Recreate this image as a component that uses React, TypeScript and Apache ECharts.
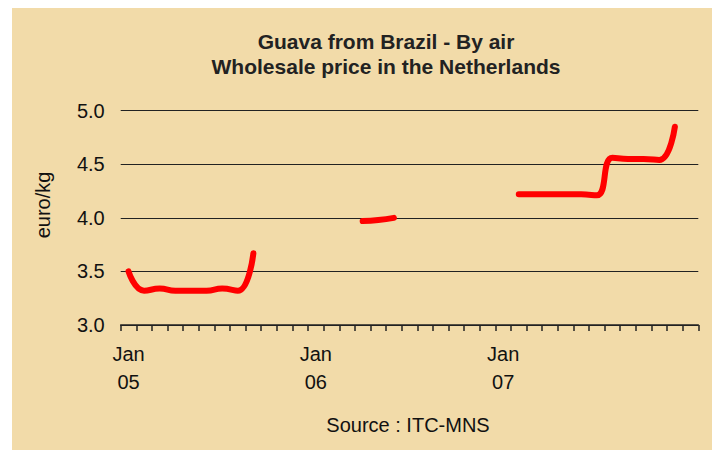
import React, { useEffect, useRef } from "react";
import * as echarts from "echarts";

const months = ["Jan","Feb","Mar","Apr","May","Jun","Jul","Aug","Sep","Oct","Nov","Dec"];
const years = ["05", "06", "07", "08"];
const categories: string[] = [];
years.forEach((y, yi) => {
  months.forEach((m, mi) => {
    if (yi < 3 || mi === 0) categories.push(`${m} ${y}`);
  });
});

const prices2005 = [3.5, 3.32, 3.34, 3.32, 3.32, 3.32, 3.34, 3.32, 3.67, null, null, null];
const prices2006 = [null, null, null, 3.97, 3.98, 4.0, null, null, null, null, null, null];
const prices2007 = [null, 4.22, 4.22, 4.22, 4.22, 4.22, 4.21, 4.56, 4.55, 4.55, 4.54, 4.85];
const prices2008 = [null];
const prices = [...prices2005, ...prices2006, ...prices2007, ...prices2008];

const yTicks = [3.0, 3.5, 4.0, 4.5, 5.0];
const titleLines = ["Guava from Brazil - By air", "Wholesale price in the Netherlands"];
const yName = "euro/kg";
const sourceText = "Source : ITC-MNS";

export default function App() {
  const ref = useRef<HTMLDivElement>(null);
  useEffect(() => {
    document.body.style.margin = "0";
    const chart = echarts.init(ref.current!, null, { renderer: "svg" });
    const font = "'Liberation Sans', Arial, sans-serif";
    chart.setOption({
      animation: false,
      backgroundColor: "#ffffff",
      textStyle: { fontFamily: font },
      graphic: [
        {
          type: "rect",
          z: -10,
          shape: { x: 12, y: 8, width: 700, height: 442 },
          style: { fill: "#F2DBA9" },
        },
        {
          type: "text",
          x: 386,
          y: 54,
          style: {
            text: titleLines.join("\n"),
            font: `bold 21px ${font}`,
            fill: "#222222",
            align: "center",
            verticalAlign: "middle",
            lineHeight: 25,
          },
        },
        {
          type: "text",
          x: 43,
          y: 205,
          rotation: Math.PI / 2,
          style: {
            text: yName,
            font: `20px ${font}`,
            fill: "#111111",
            align: "center",
            verticalAlign: "middle",
          },
        },
        {
          type: "text",
          x: 408,
          y: 425,
          style: {
            text: sourceText,
            font: `20px ${font}`,
            fill: "#111111",
            align: "center",
            verticalAlign: "middle",
          },
        },
      ],
      grid: { left: 120.7, right: 13.7, top: 110.7, bottom: 125 },
      xAxis: {
        type: "category",
        data: categories,
        boundaryGap: true,
        axisLine: { lineStyle: { color: "#222222", width: 1.5 } },
        axisTick: { show: true, interval: 0, length: 6, lineStyle: { color: "#222222", width: 1.5 } },
        axisLabel: {
          interval: (i: number) => i === 0 || i === 12 || i === 24,
          formatter: (v: string) => v.replace(" ", "\n"),
          fontSize: 20,
          color: "#111111",
          lineHeight: 28,
          margin: 15,
        },
        splitLine: { show: false },
      },
      yAxis: {
        type: "value",
        min: yTicks[0],
        max: yTicks[yTicks.length - 1],
        interval: 0.5,
        axisLine: { show: false },
        axisTick: { show: false },
        axisLabel: {
          fontSize: 20,
          color: "#111111",
          margin: 16,
          formatter: (v: number) => v.toFixed(1),
        },
        splitLine: { lineStyle: { color: "#222222", width: 1.2 } },
      },
      series: [
        {
          type: "line",
          data: prices,
          smooth: 0.5,
          connectNulls: false,
          showSymbol: false,
          symbol: "none",
          lineStyle: { color: "#FF0000", width: 6, cap: "round", join: "round" },
        },
      ],
    });
    return () => chart.dispose();
  }, []);
  return <div ref={ref} style={{ width: 712, height: 450 }} />;
}
